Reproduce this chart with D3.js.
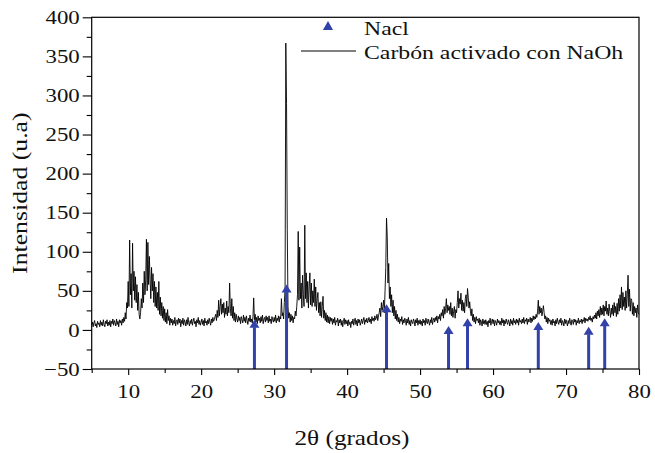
<!DOCTYPE html>
<html><head><meta charset="utf-8">
<script src="https://cdn.jsdelivr.net/npm/d3@7"></script>
<style>
html,body{margin:0;padding:0;background:#fff;}
svg{display:block;}
text{font-family:"Liberation Serif","Times New Roman",serif;fill:#111;}
</style></head>
<body>
<script>
// ---- data ----
const thetaStart = 5;
const thetaStep = 0.1;
const intensity = [
 6,10,4,9,12,5,8,3,11,7,
 9,4,12,6,10,5,13,7,4,11,
 8,13,5,10,6,12,4,11,8,14,
 6,12,9,5,14,7,11,4,13,9,
 12,6,14,9,16,11,22,14,35,28,
 62,30,115,45,72,28,111,50,75,38,
 68,35,58,25,48,20,14,22,40,28,
 60,35,75,45,64,116,50,112,58,94,
 65,40,80,50,72,35,62,30,55,28,
 48,25,62,20,42,18,35,15,30,12,
 27,10,22,8,26,12,18,6,15,9,
 14,6,12,8,16,5,11,13,7,15,
 9,14,4,12,8,15,6,13,10,5,
 13,7,16,9,5,12,8,14,6,11,
 15,8,11,4,13,9,16,7,12,6,
 10,14,7,12,5,15,9,11,6,13,
 8,15,10,6,14,9,16,11,13,17,
 20,12,25,16,38,18,30,40,20,33,
 22,35,16,28,20,37,18,30,22,60,
 28,18,40,15,30,12,22,10,20,14,
 10,18,12,16,8,17,13,9,19,11,
 16,9,18,12,7,15,11,19,10,14,
 9,17,41,13,20,10,16,8,18,12,
 15,9,17,11,19,8,14,16,10,18,
 12,16,9,18,11,14,8,17,13,10,
 16,11,19,9,15,12,18,10,17,14,
 40,18,22,14,35,53,367,290,128,30,
 15,22,10,20,12,18,9,16,14,24,
 18,30,45,126,38,106,40,60,28,70,
 45,30,134,40,73,35,62,28,55,73,
 32,60,30,50,35,65,30,55,25,40,
 48,22,35,18,36,16,30,43,15,25,
 12,22,10,19,9,17,8,16,11,15,
 7,14,9,16,6,12,10,15,5,13,
 9,14,6,12,4,11,15,7,13,8,
 12,5,13,7,10,3,11,8,14,6,
 11,15,7,12,5,14,9,13,6,10,
 14,8,12,16,7,13,10,15,9,12,
 16,10,14,8,17,12,15,11,18,13,
 15,20,12,18,22,28,17,35,25,30,
 38,22,50,80,143,120,60,85,40,55,
 30,45,22,38,18,30,14,25,12,20,
 10,16,8,14,11,17,7,13,9,15,
 12,6,14,9,16,7,12,5,13,10,
 8,14,11,5,13,9,15,6,12,8,
 13,7,11,5,14,9,12,6,15,10,
 8,14,10,6,13,9,16,7,12,15,
 10,16,12,18,9,17,14,20,12,22,
 18,26,15,30,20,27,40,22,32,25,
 30,20,35,18,28,16,24,30,15,26,
 22,35,50,28,40,33,47,25,38,24,
 35,22,40,45,30,53,42,28,36,24,
 18,27,12,20,10,16,8,17,12,14,
 9,15,6,13,10,5,14,8,12,7,
 13,7,11,4,12,9,15,6,11,14,
 8,13,5,12,10,6,14,9,12,7,
 11,6,15,9,13,5,12,8,14,10,
 7,13,10,5,14,8,12,6,15,9,
 12,7,14,9,13,6,15,10,12,8,
 14,9,16,8,13,11,15,7,14,10,
 12,16,9,15,11,18,13,17,14,20,
 16,24,38,20,30,22,28,18,24,31,
 22,14,18,10,16,8,15,11,13,7,
 12,6,14,9,11,5,13,8,15,10,
 7,13,9,15,6,12,10,5,14,8,
 13,9,5,12,8,15,10,6,13,11,
 7,14,10,13,6,12,9,15,8,12,
 10,14,8,13,11,16,9,15,12,14,
 11,16,13,18,12,15,10,17,14,19,
 15,22,14,24,18,26,16,30,19,28,
 20,32,18,30,24,37,20,28,18,33,
 24,16,28,20,32,18,35,22,30,17,
 34,20,40,24,45,28,55,26,48,30,
 42,25,50,28,45,70,30,52,24,40,
 38,20,35,18,30,22,28,16,32,22,
 20
];
const naclPos = [27.3, 31.7, 45.4, 53.9, 56.5, 66.2, 73.1, 75.3];
const naclTip = [13, 58, 33, 5, 15, 10, 4, 15];
const xTickValues = [10, 20, 30, 40, 50, 60, 70, 80];
const xMinorValues = [5, 15, 25, 35, 45, 55, 65, 75];
const yTickValues = [-50, 0, 50, 100, 150, 200, 250, 300, 350, 400];
const yMinorValues = [-25, 25, 75, 125, 175, 225, 275, 325, 375];
const legendLabels = ["Nacl", "Carbón activado con NaOh"];
const xTitle = "2θ (grados)";
const yTitle = "Intensidad (u.a)";

// ---- layout ----
const W = 655, H = 453;
const m = {left: 91.7, right: 16, top: 17.3, bottom: 84};
const blue = "#3242a8";

const svg = d3.select("body").append("svg").attr("width", W).attr("height", H);
const x = d3.scaleLinear().domain([5, 80]).range([m.left, W - m.right]);
const y = d3.scaleLinear().domain([-50, 400]).range([H - m.bottom, m.top]);

const data = intensity.map((v, i) => ({t: thetaStart + i * thetaStep, v}));

function stretch(sel, k) {
  sel.each(function() {
    const w = this.getComputedTextLength();
    d3.select(this).attr("textLength", w * k).attr("lengthAdjust", "spacingAndGlyphs");
  });
}

// spectrum
svg.append("path").datum(data)
  .attr("fill", "none").attr("stroke", "#000").attr("stroke-width", 0.9)
  .attr("stroke-linejoin", "bevel")
  .attr("d", d3.line().x(d => x(d.t)).y(d => y(d.v)));

// NaCl arrows
const headH = 8, headW = 10, shaftW = 3;
const ag = svg.append("g").attr("fill", blue);
naclPos.forEach((p, i) => {
  const cx = x(p), tip = y(naclTip[i]), base = y(-50);
  ag.append("rect").attr("x", cx - shaftW / 2).attr("y", tip + headH - 0.5)
    .attr("width", shaftW).attr("height", base - tip - headH + 0.5);
  ag.append("path").attr("d", `M${cx},${tip}L${cx + headW / 2},${tip + headH}L${cx - headW / 2},${tip + headH}Z`);
});

// frame
svg.append("rect").attr("x", m.left).attr("y", m.top)
  .attr("width", W - m.right - m.left).attr("height", H - m.bottom - m.top)
  .attr("stroke", "#000").attr("stroke-width", 1.2).attr("fill", "none");

// axes
const xAxis = svg.append("g").attr("transform", `translate(0,${H - m.bottom})`)
  .call(d3.axisBottom(x).tickValues(xTickValues).tickSize(6).tickPadding(10).tickFormat(d3.format("d")));
svg.append("g").attr("transform", `translate(0,${H - m.bottom})`)
  .call(d3.axisBottom(x).tickValues(xMinorValues).tickSize(4).tickFormat(""));
const yAxis = svg.append("g").attr("transform", `translate(${m.left},0)`)
  .call(d3.axisLeft(y).tickValues(yTickValues).tickSize(9).tickPadding(3).tickFormat(d3.format("d")));
svg.append("g").attr("transform", `translate(${m.left},0)`)
  .call(d3.axisLeft(y).tickValues(yMinorValues).tickSize(5).tickFormat(""));
svg.selectAll(".domain").remove();
svg.selectAll(".tick line").attr("stroke", "#000").attr("stroke-width", 1.1);
svg.selectAll(".tick text").attr("font-size", 19).attr("fill", "#111");
xAxis.selectAll(".tick text").call(stretch, 1.2);
yAxis.selectAll(".tick text").call(stretch, 1.2);

// titles
svg.append("text").attr("x", 352).attr("y", 445)
  .attr("text-anchor", "middle").attr("font-size", 21).text(xTitle).call(stretch, 1.2);
svg.append("text").attr("transform", `translate(27,${(m.top + H - m.bottom) / 2}) rotate(-90)`)
  .attr("text-anchor", "middle").attr("font-size", 22).text(yTitle).call(stretch, 1.17);

// legend
svg.append("path").attr("d", d3.symbol().type(d3.symbolTriangle).size(45)())
  .attr("transform", "translate(328,27)").attr("fill", blue);
svg.append("line").attr("x1", 301).attr("x2", 356).attr("y1", 51).attr("y2", 51)
  .attr("stroke", "#000").attr("stroke-width", 1);
svg.append("text").attr("x", 364).attr("y", 35).attr("font-size", 19).text(legendLabels[0]).call(stretch, 1.25);
svg.append("text").attr("x", 364).attr("y", 59).attr("font-size", 19).text(legendLabels[1]).call(stretch, 1.25);
</script>
</body></html>
